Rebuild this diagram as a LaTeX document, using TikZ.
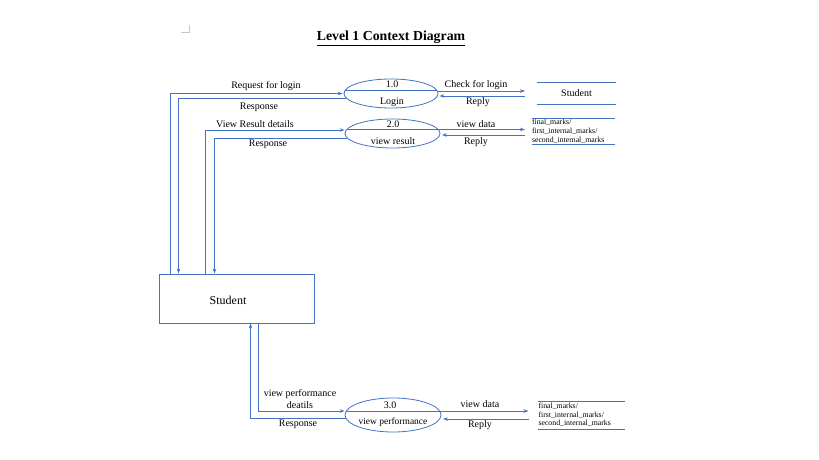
\documentclass[tikz,border=0pt]{standalone}
\usepackage{fontspec}
\setmainfont{Liberation Serif}
\usetikzlibrary{shapes.geometric,arrows.meta,calc}
\definecolor{dfdblue}{RGB}{68,114,196}

\begin{document}
\begin{tikzpicture}[x=1pt, y=1pt,
    proc/.style={ellipse, draw=dfdblue, line width=0.8pt, minimum width=95pt, minimum height=29pt, inner sep=0pt},
    ent/.style={rectangle, draw=dfdblue, line width=0.9pt, minimum width=155pt, minimum height=49pt},
    store/.style={rectangle, inner sep=0pt, outer sep=0pt},
    storeline/.style={dfdblue, line width=0.8pt},
    flow/.style={-{Stealth[length=5pt,width=3.5pt]}, dfdblue, line width=0.8pt},
    lbl/.style={font=\fontsize{10}{12}\selectfont, inner sep=0pt},
    small/.style={font=\fontsize{7.8}{9}\selectfont, text width=#1, align=left, inner sep=0pt}
]
\useasboundingbox (0,0) rectangle (819,460);

% Title
\node[font=\fontsize{13.8}{16}\selectfont\bfseries] (title) at (391,422) {\underline{Level 1 Context Diagram}};
\draw[gray!45, line width=0.8pt] (181,428) -- (189,428) -- (189,435);

% External entity
\node[ent] (ext) at (236.5,161.5) {};
\node[font=\fontsize{12}{14}\selectfont] (extname) at (228,160) {Student};

% Processes
\node[proc, minimum width=94pt] (p1) at (391,366.5) {};
\node[proc] (p2) at (392.5,326.5) {};
\node[proc, minimum width=96pt, minimum height=34pt] (p3) at (393,45) {};
\draw[storeline] ($(p1.center)+(-46,3.5)$) -- ($(p1.center)+(46,3.5)$);
\draw[storeline] ($(p2.center)+(-46,4)$) -- ($(p2.center)+(46,4)$);
\draw[storeline] ($(p3.center)+(-46.6,4)$) -- ($(p3.center)+(46.6,4)$);
\node[lbl] (p1num) at (392,376) {1.0};
\node[lbl] (p1name) at (392,358) {Login};
\node[lbl] (p2num) at (393,336) {2.0};
\node[lbl] (p2name) at (393,319) {view result};
\node[lbl] (p3num) at (390,55) {3.0};
\node[lbl, font=\fontsize{9.5}{11}\selectfont] (p3name) at (393,38) {view performance};

% Data stores
\node[store, minimum width=79pt, minimum height=21.5pt, font=\fontsize{10}{12}\selectfont] (d1) at (576.5,366.5) {Student};
\node[store, small=83pt, minimum height=26pt] (d2) at (573.5,329) {final\_marks/\\first\_internal\_marks/\\second\_internal\_marks};
\node[store, small=87pt, minimum height=28pt, font=\fontsize{7.8}{8.5}\selectfont, xshift=1pt] (d3) at (581,45) {final\_marks/\\first\_internal\_marks/\\second\_internal\_marks};
\foreach \d in {d1,d2} {
  \draw[storeline] (\d.north west) -- (\d.north east);
  \draw[storeline] (\d.south west) -- (\d.south east);
}
\draw[storeline] ($(d3.north west)+(-1,0)$) -- ($(d3.north east)+(-1,0)$);
\draw[storeline] ($(d3.south west)+(-1,0)$) -- ($(d3.south east)+(-1,0)$);

% Student <-> Login
\draw[flow] ($(ext.north west)+(12,0)$) |- ($(p1.west)+(-1,0)$);
\draw[flow] ($(p1.west)+(2,-5)$) -| ($(ext.north west)+(20,0)$);
\node[lbl] (lreq) at (266,374) {Request for login};
\node[lbl] (lres1) at (259,353) {Response};

% Student <-> view result
\draw[flow] ($(ext.north west)+(47,0)$) |- ($(p2.west)+(0,3.5)$);
\draw[flow] ($(p2.west)+(2,-4.5)$) -| ($(ext.north west)+(56,0)$);
\node[lbl] (lview) at (255,336) {View Result details};
\node[lbl] (lres2) at (268,316) {Response};

% Student <-> view performance
\draw[flow] ($(ext.south west)+(100,0)$) |- ($(p3.west)+(0,4)$);
\draw[flow] ($(p3.west)+(1,-3)$) -| ($(ext.south west)+(92,0)$);
\node[lbl, align=center] (lperf) at (300,61) {view performance\\deatils};
\node[lbl] (lres3) at (298,36) {Response};

% Login <-> Student store
\draw[flow] ($(p1.east)+(-0.5,2.5)$) -- ($(d1.west)+(-12,2.5)$);
\draw[flow] ($(d1.west)+(-12,-2.5)$) -- ($(p1.east)+(1,-2.5)$);
\node[lbl] (lchk) at (476,375) {Check for login};
\node[lbl] (lrep1) at (478,358) {Reply};

% view result <-> marks store
\draw[flow] ($(p2.east)+(-1,4)$) -- ($(d2.west |- p2.east)+(-7,4)$);
\draw[flow] ($(d2.west |- p2.east)+(-7,-1.5)$) -- ($(p2.east)+(1.5,-1.5)$);
\node[lbl] (ldata2) at (476,336) {view data};
\node[lbl] (lrep2) at (476,318) {Reply};

% view performance <-> marks store
\draw[flow] ($(p3.east)+(-1,4)$) -- ($(d3.west |- p3.east)+(-10,4)$);
\draw[flow] ($(d3.west |- p3.east)+(-10,-4)$) -- ($(p3.east)+(1.5,-4)$);
\node[lbl] (ldata3) at (480,56) {view data};
\node[lbl] (lrep3) at (480,35) {Reply};

\end{tikzpicture}
\end{document}
